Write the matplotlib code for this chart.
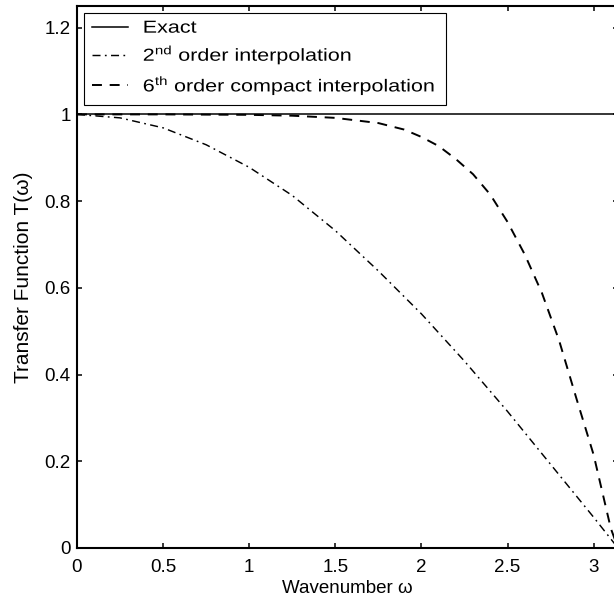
import numpy as np
import matplotlib
matplotlib.use("Agg")
import matplotlib.pyplot as plt
from matplotlib.patheffects import AbstractPathEffect
from matplotlib.transforms import Affine2D

plt.rcParams['font.family'] = ['Liberation Sans', 'DejaVu Sans']
plt.rcParams['mathtext.fontset'] = 'custom'
plt.rcParams['mathtext.rm'] = 'Liberation Sans'
plt.rcParams['mathtext.it'] = 'Liberation Sans:italic'

# Exact transfer function
w_exact = [0.0, 3.1416]
t_exact = [1.0, 1.0]

# 2nd order interpolation
w_2nd = [0.0, 0.25, 0.5, 0.75, 1.0, 1.25, 1.5, 1.75, 2.0, 2.25, 2.5, 2.75, 3.0, 3.1416]
t_2nd = [1.0, 0.992, 0.969, 0.930, 0.878, 0.813, 0.732, 0.639, 0.540, 0.431, 0.315, 0.193, 0.071, 0.0]

# 6th order compact interpolation
w_6th = [0.0, 0.5, 1.0, 1.25, 1.5, 1.75, 1.9, 2.0, 2.1, 2.2, 2.3, 2.4, 2.5, 2.6, 2.7,
         2.8, 2.9, 3.0, 3.05, 3.1, 3.1416]
t_6th = [1.0, 1.0, 0.999, 0.997, 0.992, 0.98, 0.965, 0.948, 0.927, 0.897, 0.862, 0.815,
         0.752, 0.677, 0.588, 0.478, 0.345, 0.215, 0.13, 0.045, 0.0]

series_labels = ['Exact',
                 r'2$^{\mathrm{nd}}$ order interpolation',
                 r'6$^{\mathrm{th}}$ order compact interpolation']

x_ticks = [0, 0.5, 1, 1.5, 2, 2.5, 3]
x_labels = ['0', '0.5', '1', '1.5', '2', '2.5', '3']
y_ticks = [0, 0.2, 0.4, 0.6, 0.8, 1.0, 1.2]
y_labels = ['0', '0.2', '0.4', '0.6', '0.8', '1', '1.2']


class HStretch(AbstractPathEffect):
    """Stretch glyphs horizontally about the text origin (left-aligned text)."""
    def __init__(self, sx):
        super().__init__()
        self.sx = sx

    def draw_path(self, renderer, gc, tpath, affine, rgbFace=None):
        renderer.draw_path(gc, tpath, Affine2D().scale(self.sx, 1.0) + affine, rgbFace)


fig = plt.figure(figsize=(6.14, 6.01), dpi=100)
ax = fig.add_axes([77/614, 53/601, 541/614, 542/601])

ax.plot(w_exact, t_exact, color='black', lw=1.1, linestyle='-', label=series_labels[0])
ax.plot(w_2nd, t_2nd, color='black', lw=1.05, linestyle=(0, (5.5, 3, 1.2, 3)),
        label=series_labels[1])
ax.plot(w_6th, t_6th, color='black', lw=1.4, linestyle=(0, (5.1, 4.0)),
        label=series_labels[2])

ax.set_xlim(0, 3.1416)
ax.set_ylim(0, 1.25)
ax.set_xticks(x_ticks)
ax.set_xticklabels(x_labels)
ax.set_yticks(y_ticks)
ax.set_yticklabels(y_labels)
ax.tick_params(direction='in', length=3.8, width=1.1, top=True, right=True,
               labelsize=13.5, colors='black')
ax.tick_params(axis='x', pad=8)
ax.tick_params(axis='y', pad=4.5)
for s in ax.spines.values():
    s.set_linewidth(1.5)

ax.set_xlabel('Wavenumber ω', fontsize=13.5, labelpad=3)
ax.set_ylabel('Transfer Function T(ω)', fontsize=15, labelpad=8)

leg = ax.legend(loc='upper left',
                bbox_to_anchor=((83.7 - 77) / 541, (548 - 12.7) / 542, (446 - 83.7) / 541, 0),
                mode='expand', fontsize=12.5,
                frameon=True, fancybox=False, edgecolor='black', framealpha=1,
                borderpad=0.45, labelspacing=0.45, handlelength=2.1, handletextpad=0.85,
                borderaxespad=0)
leg.get_frame().set_linewidth(0.8)
for t in leg.get_texts():
    t.set_path_effects([HStretch(1.24)])

fig.savefig('out.png', dpi=100)
